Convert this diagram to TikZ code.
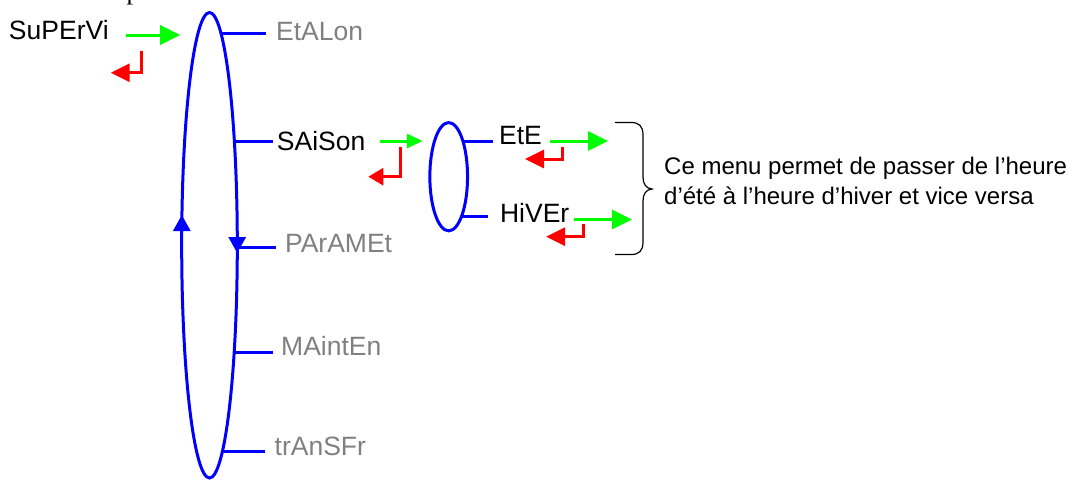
\documentclass[tikz,border=0pt]{standalone}
\usepackage{fontspec}
\setmainfont{Liberation Sans}
\newfontfamily\cutserif{Liberation Serif}
\usetikzlibrary{arrows.meta,shapes.geometric}
\definecolor{menublue}{RGB}{0,0,255}
\definecolor{okgreen}{RGB}{0,255,0}
\definecolor{escred}{RGB}{255,0,0}
\definecolor{offgray}{RGB}{128,128,128}

\begin{document}
\begin{tikzpicture}[x=1pt,y=-1pt,
  font=\fontsize{26.5}{32}\selectfont,
  lbl/.style={inner sep=0pt,anchor=base west},
  greyed/.style={lbl,text=offgray},
  ring/.style={draw=menublue,line width=3pt,ellipse,inner sep=0pt},
  armline/.style={menublue,line width=3pt},
  dirarr/.style={menublue,line width=3pt,-{Triangle[length=16pt,width=17pt]}},
  okarr/.style={okgreen,line width=3pt,-{Triangle[length=20pt,width=19pt]}},
  okarrs/.style={okgreen,line width=3pt,-{Triangle[length=16pt,width=14pt]}},
  escarr/.style={escred,line width=3pt,-{Triangle[length=19pt,width=18pt]}},
  escarrs/.style={escred,line width=3pt,-{Triangle[length=15pt,width=17pt]}}]

% page is 1073 x 479 (x right, y down)
\useasboundingbox (0,0) rectangle (1073,479);

% cut-off letter at the top edge
\node[inner sep=0pt,anchor=base west,font=\cutserif\fontsize{26}{30}\selectfont]
  (cut) at (126.5,-0.5) {p};

% ---- menu rings ----
\node[ring,minimum width=55.6pt,minimum height=465.5pt] (menu) at (209.5,245.25) {};
\node[ring,minimum width=37.7pt,minimum height=108.3pt] (saisonring) at (448.7,176.7) {};
% direction of travel on the main ring
\draw[dirarr] (181.8,232) -- (181.8,215);
\draw[dirarr] (237.2,238) -- (237.2,253);

% ---- entries ----
\node[lbl] (supervi) at (8.8,39) {SuPErVi};
\node[greyed] (etalon) at (275.9,40) {EtALon};
\node[lbl] (saison) at (276.7,150) {SAiSon};
\node[greyed] (param) at (284.9,252) {PArAMEt};
\node[greyed] (mainten) at (281,355) {MAintEn};
\node[greyed] (transfr) at (274.5,455) {trAnSFr};
\node[lbl] (ete) at (498.9,144) {EtE};
\node[lbl] (hiver) at (499.9,222) {HiVEr};

% arms from the rings to the entries
\coordinate (a1) at (220.9,33);
\coordinate (a2) at (234.4,141);
\coordinate (a3) at (237.3,247);
\coordinate (a4) at (234.2,352);
\coordinate (a5) at (222.5,451);
\coordinate (b1) at (463,141);
\coordinate (b2) at (461.7,216.7);
\draw[armline,shorten >=10.2pt] (a1) -- (a1 -| etalon.west);
\draw[armline,shorten >=3.7pt] (a2) -- (a2 -| saison.west);
\draw[armline,shorten >=8.9pt] (a3) -- (a3 -| param.west);
\draw[armline,shorten >=8pt] (a4) -- (a4 -| mainten.west);
\draw[armline,shorten >=9.5pt] (a5) -- (a5 -| transfr.west);
\draw[armline,shorten >=5.9pt] (b1) -- (b1 -| ete.west);
\draw[armline,shorten >=11.9pt] (b2) -- (b2 -| hiver.west);

% ---- keys: green = enter, red = back ----
\coordinate (k0) at (126,35);
\coordinate (k1) at (380,141);
\coordinate (k2) at (550,141);
\coordinate (k3) at (574,219.5);
\draw[okarr] (k0) -- (k0 -| menu.west);
\draw[okarrs,shorten >=5.6pt] (k1) -- (k1 -| saisonring.west);
\draw[okarr] (k2) -- ++(58,0);
\draw[okarr] (k3) -- ++(58,0);
\draw[escarr] (141,50.7) |- (110.7,72.7);
\draw[escarrs] (400,146.7) |- (368.3,176.7);
\draw[escarr] (562,146.7) |- (525,159);
\draw[escarr] (583,224) |- (546,236.7);

% ---- brace + note ----
\draw[line width=1.2pt] (615,122.5) -- (631,122.5)
  .. controls (639,122.5) and (643,126) .. (643,135) -- (643,177)
  .. controls (643,184) and (646,188.5) .. (652,189)
  .. controls (646,189.5) and (643,194) .. (643,201) -- (643,242)
  .. controls (643,251) and (639,254.5) .. (631,254.5) -- (615,254.5);
\node[inner sep=0pt,anchor=north west,align=left,font=\fontsize{24}{30}\selectfont]
  (note) at (664,156.8) {Ce menu permet de passer de l’heure\\d’été à l’heure d’hiver et vice versa};
\end{tikzpicture}
\end{document}
